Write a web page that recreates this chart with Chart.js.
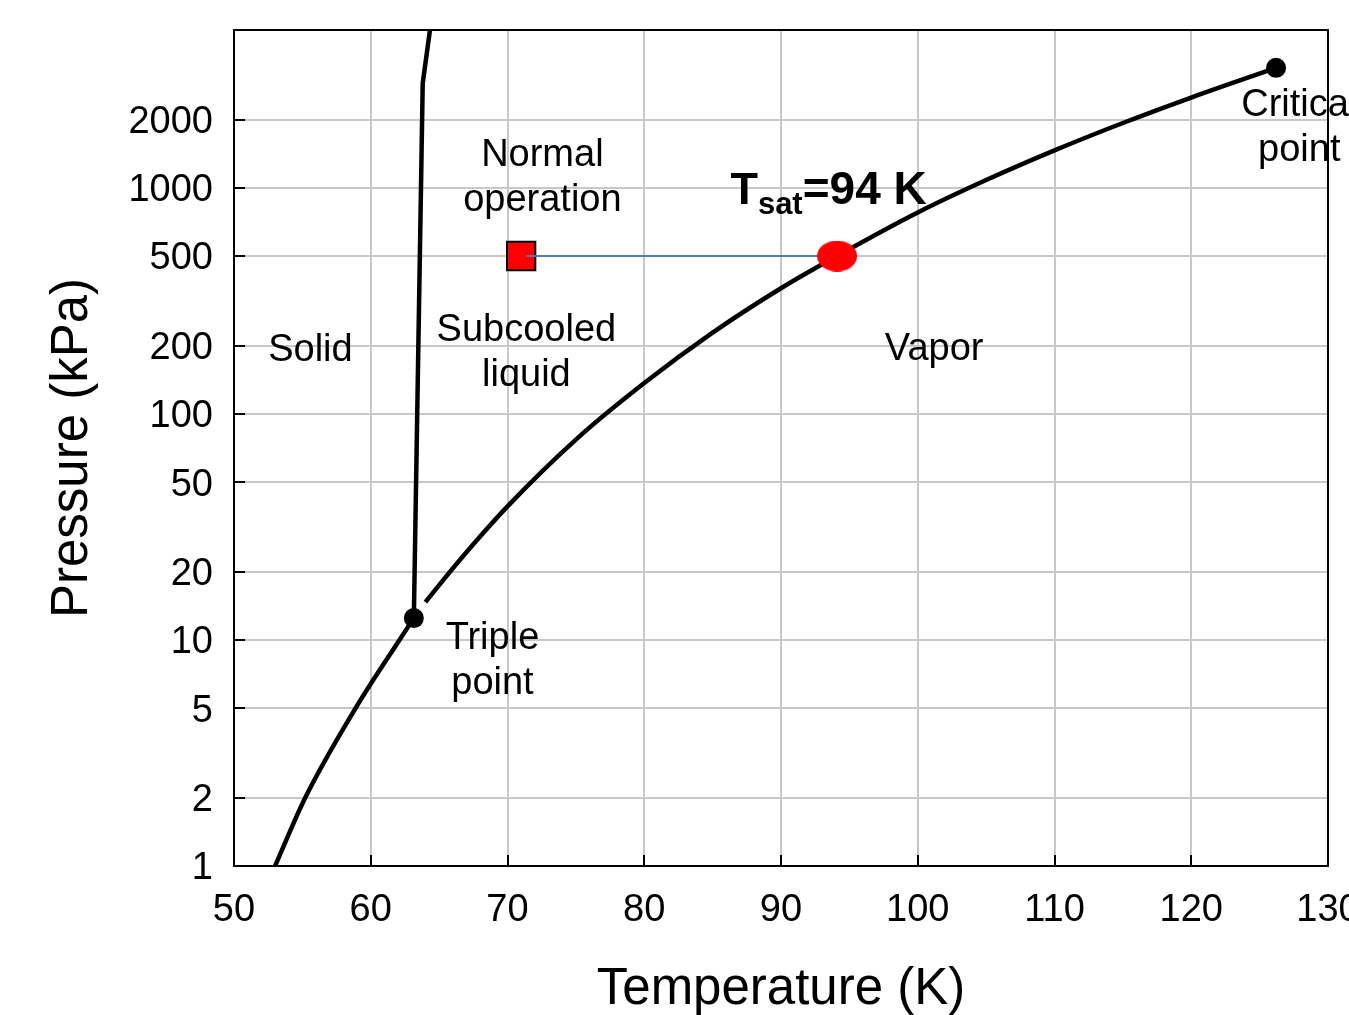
<!DOCTYPE html>
<html><head><meta charset="utf-8">
<script src="https://cdn.jsdelivr.net/npm/chart.js@4"></script>
<style>
html,body{margin:0;padding:0;overflow:hidden;background:#fff;width:1349px;height:1015px}
#wrap{position:absolute;left:0;top:0;width:1420px;height:1015px}
</style>
</head><body>
<div id="wrap"><canvas id="c" width="1420" height="1015"></canvas></div>
<script>
// ---- data ----
const xTicks = [50, 60, 70, 80, 90, 100, 110, 120, 130];
const yTicks = [1, 2, 5, 10, 20, 50, 100, 200, 500, 1000, 2000, 5000];
const yTickLabels = ['1', '2', '5', '10', '20', '50', '100', '200', '500', '1000', '2000', ''];

// solid-vapor (sublimation) curve, T in K, P in kPa
const sublimT = [53.0, 55.2, 58.9, 62.1, 63.15];
const sublimP = [1, 2, 5, 10, 12.5];

// liquid-vapor (saturation) curve
const vaporT = [64.0, 65.0, 67.5, 70.0, 75.0, 80.0, 85.0, 90.0, 94.1, 100.0, 105.0, 110.0, 115.0, 120.0, 126.2];
const vaporP = [14.7, 17.5, 26.5, 39, 77, 137, 229, 360, 500, 779, 1084, 1467, 1939, 2513, 3400];

// solid-liquid (melting) line
const meltT = [63.15, 63.8, 64.33];
const meltP = [12.5, 2900, 5000];

const tripleT = 63.15, tripleP = 12.5;
const criticalT = 126.2, criticalP = 3400;

const opT = 71.0, opP = 500;          // normal operation state
const satT = 94.1;                    // Tsat at operating pressure
const lineT = [71.4, 94.1];

// text notes anchored in data space (T, P)
const notes = [
  {lines: ['Normal', 'operation'], t: 72.55, p: 1142},
  {lines: ['Subcooled', 'liquid'], t: 71.38, p: 192.5},
  {lines: ['Solid'], t: 55.59, p: 197},
  {lines: ['Vapor'], t: 101.2, p: 199},
  {lines: ['Triple', 'point'], t: 68.9, p: 8.39},
  {lines: ['Critical', 'point'], t: 127.9, p: 1911}
];
const tsatNote = {t: 86.3, p: 858, main: 'T', sub: 'sat', rest: '=94 K'};

// ---- drawing ----
const FONT = '"Liberation Sans", Arial, Helvetica, sans-serif';
const xy = (ts, ps) => ts.map((t, i) => ({x: t, y: ps[i]}));

const ell = document.createElement('canvas');
ell.width = 40; ell.height = 31;
{
  const g = ell.getContext('2d');
  g.fillStyle = '#ff0000';
  g.beginPath();
  g.ellipse(20, 15.5, 20, 15.5, 0, 0, Math.PI * 2);
  g.fill();
}

const overlay = {
  id: 'overlay',
  afterDatasetsDraw(chart) {
    const {ctx, chartArea: a, scales: {x, y}} = chart;
    ctx.save();
    ctx.fillStyle = '#000';
    ctx.textAlign = 'center';
    ctx.textBaseline = 'middle';
    ctx.font = '38px ' + FONT;
    for (const n of notes) {
      const cx = x.getPixelForValue(n.t), cy = y.getPixelForValue(n.p) + 3.5;
      n.lines.forEach((s, i) => ctx.fillText(s, cx, cy + (i - (n.lines.length - 1) / 2) * 45));
    }
    // Tsat label
    ctx.textAlign = 'left';
    ctx.textBaseline = 'alphabetic';
    let px = x.getPixelForValue(tsatNote.t);
    const py = y.getPixelForValue(tsatNote.p) + 1;
    ctx.font = 'bold 45px ' + FONT;
    ctx.fillText(tsatNote.main, px, py);
    px += ctx.measureText(tsatNote.main).width;
    ctx.font = 'bold 31px ' + FONT;
    ctx.fillText(tsatNote.sub, px, py + 10);
    px += ctx.measureText(tsatNote.sub).width;
    ctx.font = 'bold 46px ' + FONT;
    ctx.fillText(tsatNote.rest, px, py);

    // frame
    ctx.strokeStyle = '#000';
    ctx.lineWidth = 2;
    ctx.strokeRect(a.left, a.top, a.right - a.left, a.bottom - a.top);
    // inward tick marks
    ctx.beginPath();
    for (const v of xTicks) {
      const p = Math.round(x.getPixelForValue(v));
      ctx.moveTo(p, a.bottom); ctx.lineTo(p, a.bottom - 11);
    }
    for (const v of yTicks) {
      const p = Math.round(y.getPixelForValue(v));
      ctx.moveTo(a.left, p); ctx.lineTo(a.left + 11, p);
    }
    ctx.stroke();
    ctx.restore();
  }
};

new Chart(document.getElementById('c'), {
  type: 'scatter',
  data: {
    datasets: [
      {label: 'Tsat', data: [{x: satT, y: opP}], pointStyle: ell, pointRadius: 20, showLine: false, order: 0},
      {label: 'link', data: xy(lineT, [opP, opP]), showLine: true, borderColor: '#4a7ebb', borderWidth: 2, pointRadius: 0, order: 1},
      {label: 'operation', data: [{x: opT, y: opP}], pointStyle: 'rect', pointRadius: 20, backgroundColor: '#ff0000', borderColor: '#000', borderWidth: 2, showLine: false, order: 2},
      {label: 'triple', data: [{x: tripleT, y: tripleP}], pointRadius: 10, backgroundColor: '#000', borderColor: '#000', borderWidth: 0, order: 3},
      {label: 'critical', data: [{x: criticalT, y: criticalP}], pointRadius: 10, backgroundColor: '#000', borderColor: '#000', borderWidth: 0, order: 3},
      {label: 'vapor', data: xy(vaporT, vaporP), showLine: true, borderColor: '#000', borderWidth: 4.5, pointRadius: 0, cubicInterpolationMode: 'monotone', order: 4},
      {label: 'sublimation', data: xy(sublimT, sublimP), showLine: true, borderColor: '#000', borderWidth: 4.5, pointRadius: 0, cubicInterpolationMode: 'monotone', order: 4},
      {label: 'melting', data: xy(meltT, meltP), showLine: true, borderColor: '#000', borderWidth: 4.5, pointRadius: 0, tension: 0, order: 4}
    ]
  },
  options: {
    responsive: false,
    animation: false,
    events: [],
    devicePixelRatio: 1,
    layout: {padding: {left: 0, top: 30, right: 92, bottom: 0}},
    plugins: {legend: {display: false}, tooltip: {enabled: false}},
    scales: {
      x: {
        type: 'linear', min: 50, max: 130,
        afterBuildTicks: s => { s.ticks = xTicks.map(v => ({value: v})); },
        afterFit: s => { s.height = 149; s.paddingLeft = 0; s.paddingRight = 0; },
        ticks: {font: {family: FONT, size: 38}, color: '#000', padding: 22, autoSkip: false, maxRotation: 0},
        grid: {color: '#c8c8c8', lineWidth: 2, drawTicks: false},
        border: {display: false},
        title: {display: true, text: 'Temperature (K)', color: '#000', font: {family: FONT, size: 51, lineHeight: 1.0}, padding: {top: 0, bottom: 0}}
      },
      y: {
        type: 'logarithmic', min: 1, max: 5000,
        afterBuildTicks: s => { s.ticks = yTicks.map(v => ({value: v})); },
        afterFit: s => { s.width = 234; s.paddingTop = 0; s.paddingBottom = 0; },
        ticks: {callback: (v, i) => yTickLabels[i], font: {family: FONT, size: 38}, color: '#000', padding: 21, labelOffset: 3, autoSkip: false},
        grid: {color: '#c8c8c8', lineWidth: 2, drawTicks: false},
        border: {display: false},
        title: {display: true, text: 'Pressure (kPa)', color: '#000', font: {family: FONT, size: 51}, padding: {top: 42, bottom: 0}}
      }
    }
  },
  plugins: [overlay]
});
</script>
</body></html>
